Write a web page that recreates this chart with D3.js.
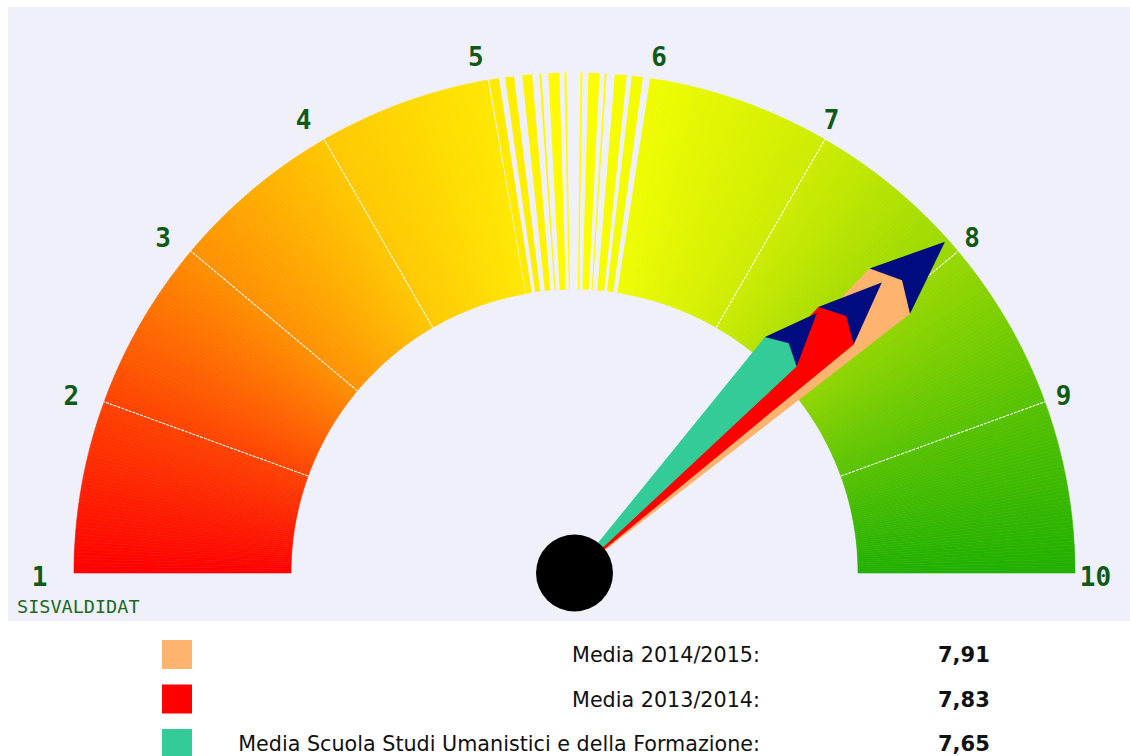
<!DOCTYPE html>
<html lang="it">
<head>
<meta charset="utf-8">
<style type="text/css">
    body { margin: 0; background: #fff; }
    svg { display: block; }
    .tick-label { font-family: "DejaVu Sans Mono", monospace; font-weight: bold; font-size: 26px; fill: #0e5a16; }
    .brand { font-family: "DejaVu Sans Mono", monospace; font-size: 18.5px; fill: #1b6a22; }
    .legend-label { font-family: "DejaVu Sans", Verdana, sans-serif; font-size: 20.7px; fill: #111; }
    .legend-value { font-family: "DejaVu Sans", Verdana, sans-serif; font-size: 21px; font-weight: bold; fill: #111; }
</style>
</head>
<body>
<svg width="1130" height="756"></svg>

<script src="https://d3js.org/d3.v7.min.js"></script>
<script type="text/javascript">
    // scale values shown around the dial
    var tickValues = [1, 2, 3, 4, 5, 6, 7, 8, 9, 10];
    var separatorValues = [2, 3, 4, 7, 8, 9];
    // the 5-6 band is drawn as stripes in the original picture
    var stripes = [[5.008, 5.066], [5.101, 5.153], [5.200, 5.257], [5.298, 5.310], [5.350, 5.413],
                   [5.442, 5.454], [5.534, 5.546], [5.580, 5.644], [5.673, 5.684], [5.731, 5.800],
                   [5.829, 5.893], [5.934, 6.000]];

    // legend / needles
    var labels = ["Media 2014/2015:", "Media 2013/2014:", "Media Scuola Studi Umanistici e della Formazione:"];
    var values = [7.91, 7.83, 7.65];
    var valueText = ["7,91", "7,83", "7,65"];
    var colors = ["#feb46e", "#ff0000", "#33cc99"];

    var svg = d3.select("svg"),
        cx = 574.5, cy = 573,
        rInner = 283.5, rOuter = 500.5;

    svg.append("rect")
        .attr("x", 8).attr("y", 7)
        .attr("width", 1130 - 8).attr("height", 621 - 7)
        .attr("fill", "#f0f0fb");

    var angle = d3.scaleLinear().domain([1, 10]).range([-Math.PI / 2, Math.PI / 2]);

    var color = d3.scaleLinear()
        .domain([1, 2, 3, 4, 5, 5.5, 6, 7, 8, 9, 10])
        .range(["#ff0000", "#ff4200", "#ff9000", "#ffc800", "#ffe800", "#ffff00",
                "#eefc00", "#cdec00", "#98d800", "#56c200", "#20b000"]);

    var g = svg.append("g").attr("transform", "translate(" + cx + "," + cy + ")");

    var arc = d3.arc().innerRadius(rInner).outerRadius(rOuter);

    // dial band as thin slices so the colour follows the angle
    var step = 0.02;
    var slices = d3.range(1, 10, step).filter(function (v) { return v < 5 - 1e-9 || v >= 6 - 1e-9; });
    g.selectAll(".slice")
        .data(slices)
        .enter().append("path")
        .attr("class", "slice")
        .attr("d", function (v) {
            var e = Math.min(v + step, v < 5 ? 5 : 10);
            return arc({startAngle: angle(v), endAngle: angle(e)});
        })
        .attr("fill", function (v) { return color(v + step / 2); })
        .attr("stroke", function (v) { return color(v + step / 2); })
        .attr("stroke-width", 0.6);

    g.selectAll(".stripe")
        .data(stripes)
        .enter().append("path")
        .attr("class", "stripe")
        .attr("d", function (d) { return arc({startAngle: angle(d[0]), endAngle: angle(d[1])}); })
        .attr("fill", function (d) { return color((d[0] + d[1]) / 2); });

    // white separators
    g.selectAll(".sep")
        .data(separatorValues)
        .enter().append("line")
        .attr("class", "sep")
        .attr("x1", function (v) { return rInner * Math.sin(angle(v)); })
        .attr("y1", function (v) { return -rInner * Math.cos(angle(v)); })
        .attr("x2", function (v) { return rOuter * Math.sin(angle(v)); })
        .attr("y2", function (v) { return -rOuter * Math.cos(angle(v)); })
        .attr("stroke", "#ffffff")
        .attr("stroke-width", 1.1)
        .attr("stroke-dasharray", "3,1");

    // tick labels
    var rLabel = 528;
    g.selectAll(".tick-label")
        .data(tickValues)
        .enter().append("text")
        .attr("class", "tick-label")
        .attr("text-anchor", "middle")
        .attr("dominant-baseline", "central")
        .attr("x", function (v) { return rLabel * Math.sin(angle(v)) - 7; })
        .attr("y", function (v) { return -rLabel * Math.cos(angle(v)) + 4; })
        .text(function (v) { return v; });

    svg.append("text")
        .attr("class", "brand")
        .attr("x", 17).attr("y", 613)
        .text("SISVALDIDAT");

    // needles: first series at the bottom, last one on top
    var needleLen = [0.993, 0.845, 0.71];
    var line = d3.line().curve(d3.curveLinearClosed);

    function toXY(a, t, s) {
        var ux = Math.sin(a), uy = -Math.cos(a),
            nx = -Math.cos(a), ny = -Math.sin(a);
        return [t * ux + s * nx, t * uy + s * ny];
    }

    values.forEach(function (v, i) {
        var a = angle(v),
            L = needleLen[i] * rOuter,
            hw = 0.061 * L,
            base = 0.851 * L;
        var ng = g.append("g").attr("class", "needle");
        ng.append("path")
            .attr("d", line([toXY(a, base, hw), toXY(a, L, 0), toXY(a, base, -hw)]))
            .attr("fill", "#000c80");
        ng.append("path")
            .attr("d", line([toXY(a, 0, 0.8), toXY(a, base, hw), toXY(a, 0.884 * L, 0),
                             toXY(a, base, -hw), toXY(a, 0, -0.8)]))
            .attr("fill", colors[i]);
    });

    g.append("circle")
        .attr("r", 38.5)
        .attr("fill", "#000");

    // legend
    var rows = svg.selectAll(".legend-row")
        .data(labels)
        .enter().append("g")
        .attr("class", "legend-row")
        .attr("transform", function (d, i) { return "translate(0," + (654.5 + i * 44.5) + ")"; });

    rows.append("rect")
        .attr("x", 162).attr("y", -14.5)
        .attr("width", 30).attr("height", 29)
        .attr("fill", function (d, i) { return colors[i]; });

    rows.append("text")
        .attr("class", "legend-label")
        .attr("x", 760).attr("y", 7.5)
        .attr("text-anchor", "end")
        .text(function (d) { return d; });

    rows.append("text")
        .attr("class", "legend-value")
        .attr("x", 938).attr("y", 7.5)
        .text(function (d, i) { return valueText[i]; });
</script>
</body>
</html>
